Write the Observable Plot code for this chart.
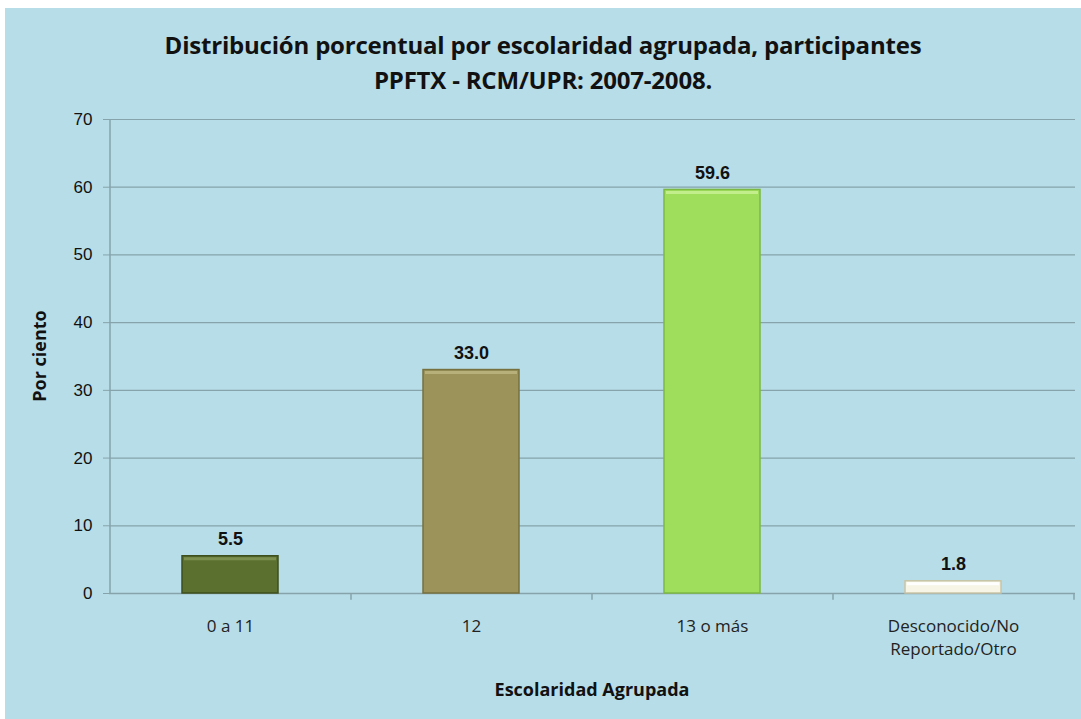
<!DOCTYPE html>
<html>
<head>
<meta charset="utf-8">
<script src="https://cdn.jsdelivr.net/npm/d3@7"></script>
<script src="https://cdn.jsdelivr.net/npm/@observablehq/plot@0.6"></script>
<style>
  html, body { margin: 0; padding: 0; background: #ffffff; }
  #frame { position: absolute; left: 5px; top: 8px; width: 1076px; height: 711px; background: #b7dde8; overflow: hidden; }
  #title { position: absolute; left: 0; top: 19px; width: 1076px; text-align: center;
           font-family: "Open Sans", sans-serif; font-weight: 700; font-size: 24px; line-height: 35px; color: #111; letter-spacing: -0.2px; }
  #chart { position: absolute; left: 0; top: 0; }
</style>
</head>
<body>
<div id="frame">
  <div id="chart"></div>
  <div id="title">Distribución porcentual por escolaridad agrupada, participantes<br>PPFTX - RCM/UPR: 2007-2008.</div>
</div>
<script>
const categories = ["0 a 11", "12", "13 o más", "Desconocido/No Reportado/Otro"];
const tickLabels = ["0 a 11", "12", "13 o más", "Desconocido/No\nReportado/Otro"];
const values = [5.5, 33.0, 59.6, 1.8];
const valueLabels = ["5.5", "33.0", "59.6", "1.8"];
const fills = ["#5b6f2f", "#9b935a", "#9fdd5c", "#f6f5e6"];
const strokes = ["#3e4f1e", "#77713f", "#7cb943", "#c8c4a6"];
const highlights = ["#7d8f4f", "#b8b07a", "#c2ee8c", "#ffffff"];
const yTicks = [0, 10, 20, 30, 40, 50, 60, 70];

const data = categories.map((c, i) => ({cat: c, value: values[i], label: valueLabels[i], fill: fills[i], stroke: strokes[i], hi: highlights[i]}));

function build(step) {
  const marks = [
    Plot.gridY(yTicks, {stroke: "#86a3ab", strokeOpacity: 1, strokeWidth: 1.2}),
    Plot.axisY(yTicks, {tickSize: 6, tickPadding: 11, stroke: "#86a3ab", fontSize: 17, fontFamily: "Liberation Sans, Arial, sans-serif", fill: "#111", label: null}),
    Plot.ruleX([categories[0]], {x: d => d, dx: -step / 2, y1: 0, y2: 70, stroke: "#86a3ab", strokeWidth: 1.5}),
    Plot.ruleY([0], {stroke: "#86a3ab", strokeWidth: 1.5}),
    Plot.barY(data, {x: "cat", y: "value", fill: "fill", stroke: "stroke", strokeWidth: 1.5}),
    Plot.ruleY(data, {x1: "cat", x2: "cat", y: "value", stroke: "hi", strokeWidth: 3, dy: 2.5, insetLeft: 2, insetRight: 2}),
    Plot.text(data, {x: "cat", y: "value", text: "label", dy: -11, lineAnchor: "bottom", fontSize: 18, fontWeight: "bold", fontFamily: "Liberation Sans, Arial, sans-serif", fill: "#111"}),
    Plot.axisX(categories, {tickSize: 0, tickPadding: 22, tickFormat: (d) => tickLabels[categories.indexOf(d)], fontSize: 17, lineHeight: 1.35, fontFamily: "Open Sans, sans-serif", fill: "#222", label: null}),
    Plot.ruleX(categories, {x: d => d, dx: step / 2, y1: 0, y2: -1, stroke: "#86a3ab", strokeWidth: 1.5})
  ];
  return Plot.plot({
    width: 1076,
    height: 711,
    marginLeft: 104,
    marginRight: 6,
    marginTop: 111,
    marginBottom: 126,
    style: {background: "transparent", overflow: "visible"},
    x: {domain: categories, paddingInner: 0.6, paddingOuter: 0.3, label: null},
    y: {domain: [0, 70], label: null},
    color: {type: "identity"},
    marks
  });
}

let plot = build(0);
const step = plot.scale("x").step;
const bw = plot.scale("x").bandwidth;
plot = build(step);

const svg = d3.select(plot);
svg.append("text")
  .attr("x", 41).attr("y", 348)
  .attr("transform", "rotate(-90, 41, 348)")
  .attr("text-anchor", "middle")
  .attr("font-family", "Open Sans, sans-serif").attr("font-weight", 700).attr("font-size", 18).attr("fill", "#111")
  .text("Por ciento");
svg.append("text")
  .attr("x", (104 + 1070) / 2).attr("y", 688)
  .attr("text-anchor", "middle")
  .attr("font-family", "Open Sans, sans-serif").attr("font-weight", 700).attr("font-size", 18).attr("fill", "#111")
  .text("Escolaridad Agrupada");

document.getElementById("chart").appendChild(plot);
</script>
</body>
</html>
